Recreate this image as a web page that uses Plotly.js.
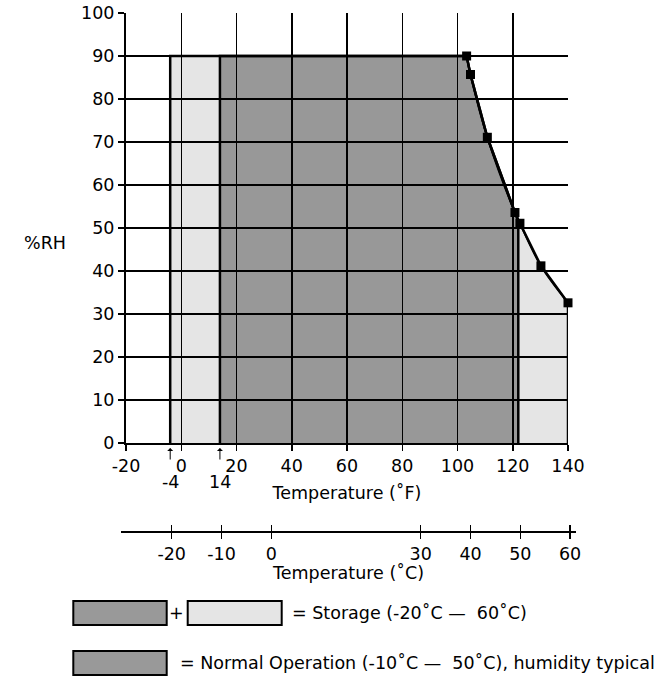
<!DOCTYPE html>
<html>
<head>
<meta charset="utf-8">
<script src="https://cdn.plot.ly/plotly-3.0.1.min.js"></script>
<style>
  html, body { margin: 0; padding: 0; background: #ffffff; }
  #chart { width: 666px; height: 677px; }
</style>
</head>
<body>
<div id="chart"></div>
<script>
// ---------------- data ----------------
const curveTempF = [103.3, 104.7, 110.8, 120.8, 122.6, 130.2, 140];
const curveRH    = [90, 85.7, 71.1, 53.6, 51.1, 41.2, 32.6];
const storageRangeF   = [-4, 140];
const operationRangeF = [14, 122];
const operationEdgeRH = 51.5;
const maxRH = 90;
const fTickVals  = [-20, 0, 20, 40, 60, 80, 100, 120, 140];
const fTickText  = ['-20', '0', '20', '40', '60', '80', '100', '120', '140'];
const rhTickVals = [0, 10, 20, 30, 40, 50, 60, 70, 80, 90, 100];
const rhTickText = ['0', '10', '20', '30', '40', '50', '60', '70', '80', '90', '100'];
const celsiusTicks     = [-20, -10, 0, 30, 40, 50, 60];
const celsiusTickText  = ['-20', '-10', '0', '30', '40', '50', '60'];
const markedF = [-4, 14];
const markedFLabels = ['-4', '14'];

// ---------------- helpers (pixel -> paper) ----------------
const W = 666, H = 677;
const fx = px => px / W;
const fy = py => 1 - py / H;
const FONT = 'DejaVu Sans, Arial, sans-serif';
const FS = 17.5;

// storage region polygon
const lightX = [storageRangeF[0], storageRangeF[0]].concat(curveTempF);
const lightY = [0, maxRH].concat(curveRH);
lightX.push(storageRangeF[1]); lightY.push(0);

// operation region polygon
const opX = [operationRangeF[0], operationRangeF[0]];
const opY = [0, maxRH];
curveTempF.forEach((t, i) => { if (t < operationRangeF[1]) { opX.push(t); opY.push(curveRH[i]); } });
opX.push(operationRangeF[1], operationRangeF[1]);
opY.push(operationEdgeRH, 0);

const traces = [
  { x: lightX, y: lightY, type: 'scatter', mode: 'lines', fill: 'toself',
    fillcolor: 'rgba(0,0,0,0.10)', line: { color: '#000', width: 2.5 },
    hoverinfo: 'skip', showlegend: false },
  { x: opX, y: opY, type: 'scatter', mode: 'lines', fill: 'toself',
    fillcolor: 'rgba(0,0,0,0.333)', line: { color: '#000', width: 2.5 },
    hoverinfo: 'skip', showlegend: false },
  { x: curveTempF, y: curveRH, type: 'scatter', mode: 'lines+markers',
    line: { color: '#000', width: 2, shape: 'spline', smoothing: 1 },
    marker: { symbol: 'square', size: 9, color: '#000' },
    cliponaxis: false, showlegend: false },
  // celsius axis carriers (invisible)
  { x: celsiusTicks, y: celsiusTicks.map(() => 0.5), xaxis: 'x2', yaxis: 'y2',
    mode: 'markers', marker: { opacity: 0 }, hoverinfo: 'skip', showlegend: false },
  { x: celsiusTicks, y: celsiusTicks.map(() => 0.5), xaxis: 'x3', yaxis: 'y2',
    mode: 'markers', marker: { opacity: 0 }, hoverinfo: 'skip', showlegend: false }
];

const cRange = [-30.24, 61.18];
const txtFont = { family: FONT, size: FS, color: '#000' };

function note(text, px, py, xanchor) {
  return { text: text, xref: 'paper', yref: 'paper', x: fx(px), y: fy(py),
    xanchor: xanchor || 'center', yanchor: 'middle', showarrow: false, font: txtFont };
}

const annotations = [
  note('%RH', 45, 243),
  note('Temperature (˚C)', 348, 573),
  note('+', 176.7, 613),
  note('= Storage (-20˚C —\u00a0 60˚C)', 290, 613, 'left'),
  note('= Normal Operation (-10˚C —\u00a0 50˚C), humidity typical', 178, 663, 'left')
];
markedF.forEach((t, i) => {
  annotations.push({ text: '', x: t, xref: 'x', y: fy(448), yref: 'paper',
    showarrow: true, ax: 0, ay: 13, arrowhead: 1, arrowsize: 1, arrowwidth: 1, arrowcolor: '#000' });
  annotations.push({ text: markedFLabels[i], x: t, xref: 'x', y: fy(482), yref: 'paper',
    xanchor: 'center', yanchor: 'middle', showarrow: false, font: txtFont });
});

const boxLine = { color: '#000', width: 2 };
const shapes = [
  { type: 'rect', xref: 'paper', yref: 'paper', x0: fx(73.3), x1: fx(166.7), y0: fy(601), y1: fy(625),
    fillcolor: '#999999', line: boxLine },
  { type: 'rect', xref: 'paper', yref: 'paper', x0: fx(187.7), x1: fx(281.7), y0: fy(601), y1: fy(625),
    fillcolor: '#e5e5e5', line: boxLine },
  { type: 'rect', xref: 'paper', yref: 'paper', x0: fx(73.3), x1: fx(166.7), y0: fy(651), y1: fy(675),
    fillcolor: '#999999', line: boxLine }
];

const layout = {
  width: W, height: H,
  margin: { l: 0, r: 0, t: 0, b: 0, pad: 0 },
  paper_bgcolor: '#fff', plot_bgcolor: '#fff',
  font: txtFont,
  showlegend: false,
  xaxis: {
    domain: [fx(126), fx(568)], anchor: 'y', range: [-20, 140],
    tickvals: fTickVals, ticktext: fTickText, ticks: 'outside', ticklen: 6, tickwidth: 1.5, tickcolor: '#000',
    showline: true, linecolor: '#000', linewidth: 2,
    showgrid: true, gridcolor: '#000', gridwidth: 1.5, zeroline: false,
    tickfont: txtFont, automargin: false,
    title: { text: 'Temperature (˚F)', font: txtFont, standoff: 12 }
  },
  yaxis: {
    domain: [fy(443), fy(13)], anchor: 'x', range: [0, 100],
    tickvals: rhTickVals, ticktext: rhTickText, ticks: 'outside', ticklen: 6, tickwidth: 1.5, tickcolor: '#000',
    showline: true, linecolor: '#000', linewidth: 2,
    showgrid: true, gridcolor: '#000', gridwidth: 1.5, zeroline: false,
    tickfont: txtFont, automargin: false
  },
  xaxis2: {
    domain: [fx(120.7), fx(576)], anchor: 'y2', range: cRange,
    tickvals: celsiusTicks, ticktext: celsiusTickText, ticks: 'outside', ticklen: 6, tickwidth: 1.5, tickcolor: '#000',
    showline: true, linecolor: '#000', linewidth: 1.5,
    showgrid: false, zeroline: false, tickfont: txtFont, automargin: false
  },
  xaxis3: {
    overlaying: 'x2', anchor: 'y2', range: cRange,
    tickvals: celsiusTicks, ticks: 'inside', ticklen: 6, tickwidth: 1.5, tickcolor: '#000',
    showline: false, showgrid: false, zeroline: false, showticklabels: false, automargin: false
  },
  yaxis2: {
    domain: [fy(531), fy(531) + 0.01], anchor: 'x2', range: [0, 1],
    visible: false, showgrid: false, zeroline: false
  },
  annotations: annotations,
  shapes: shapes
};

Plotly.newPlot('chart', traces, layout, { staticPlot: true, displayModeBar: false });
</script>
</body>
</html>
